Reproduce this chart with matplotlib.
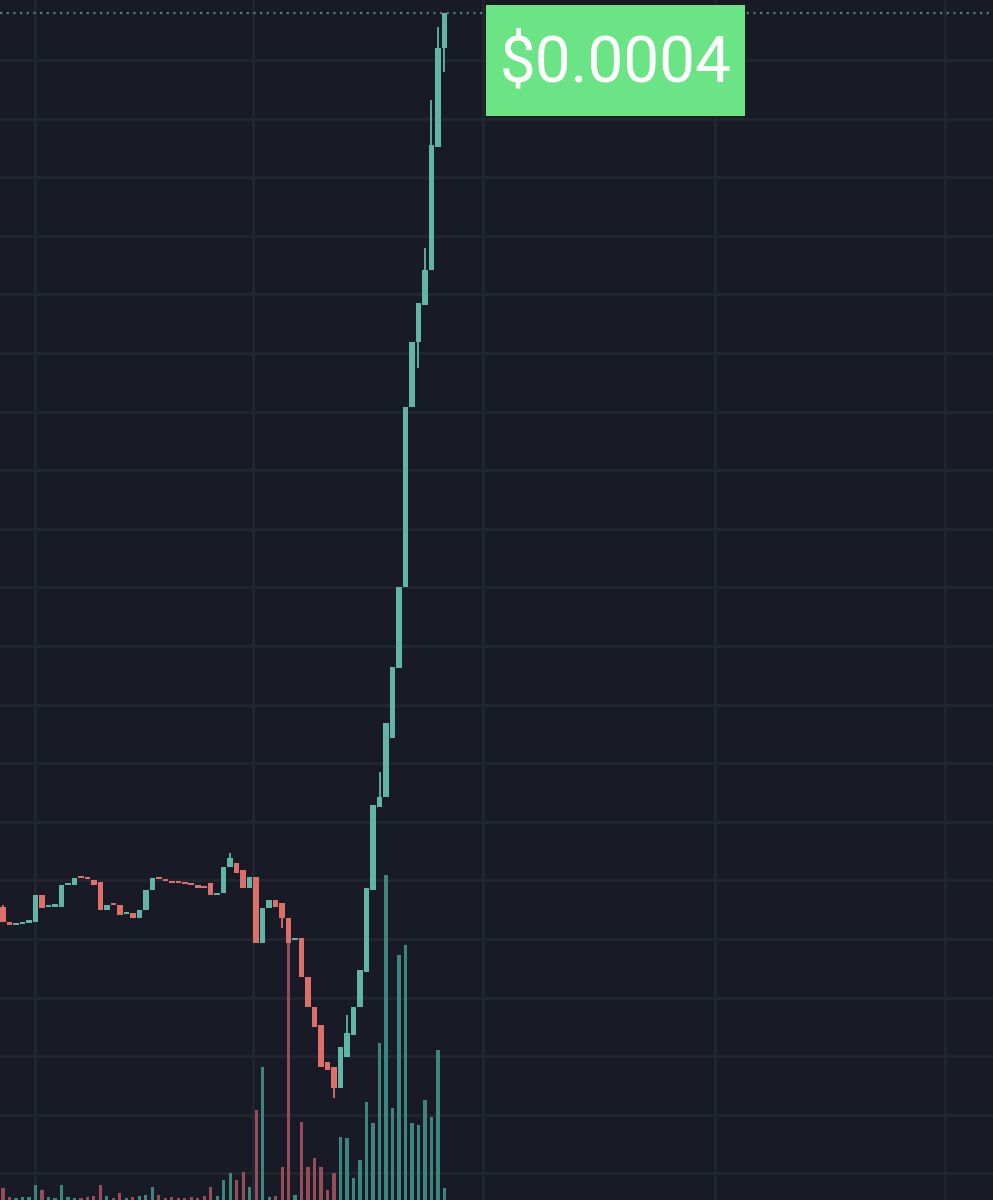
import matplotlib
matplotlib.use("Agg")
import matplotlib.pyplot as plt
from matplotlib.patches import Rectangle
import numpy as np

# candles, price in micro-dollars (1e-6 $), one per period
opens = [98.7, 93.6, 92.6, 92.9, 93.3, 93.6, 102.7, 98.5, 98.7, 98.7,
         106.1, 106.1, 108.4, 108.4, 107.7, 107.1, 97.6, 99.3, 99.3, 96.2,
         96.6, 94.9, 97.6, 104.4, 108.4, 108.1, 107.4, 106.7, 106.7, 106.4,
         106.1, 105.4, 106.7, 102.7, 103.4, 112.1, 113.5, 111.1, 105.1, 108.8,
         86.5, 98.3, 101.0, 100.0, 94.9, 87.5, 88.2, 75.1, 65.0, 58.9,
         46.5, 44.8, 37.7, 48.1, 55.6, 65.0, 76.8, 104.4, 132.3, 135.7,
         155.6, 179.1, 206.4, 267.0, 288.9, 301.3, 313.1, 354.5, 387.9]
closes = [93.6, 92.6, 92.9, 93.1, 94.3, 102.7, 98.3, 98.7, 99.0, 106.1,
          106.2, 108.4, 108.3, 108.1, 106.1, 97.6, 99.3, 99.2, 96.0, 96.6,
          94.9, 97.6, 104.4, 108.4, 108.1, 107.4, 106.7, 106.6, 106.4, 106.1,
          105.1, 105.0, 102.7, 103.4, 112.1, 115.2, 110.1, 105.1, 108.8, 86.5,
          98.3, 101.0, 98.7, 94.9, 86.5, 87.8, 75.1, 65.0, 58.2, 44.8,
          43.8, 37.7, 51.5, 56.2, 65.0, 77.4, 105.1, 133.0, 135.7, 160.6,
          179.5, 206.4, 267.0, 288.9, 302.0, 313.1, 355.2, 387.9, 399.7]
# wicks that stick out of the body
wick_highs = {0: 99.3, 35: 116.8, 53: 62.3, 58: 144.1, 65: 320.5, 66: 370.4, 67: 394.9}
wick_lows = {43: 91.6, 51: 34.3, 64: 280.1, 68: 379.8}

volumes = [12, 3, 2, 3, 3, 15, 10, 3, 2, 15,
           3, 2, 2, 3, 4, 15, 4, 2, 7, 2,
           3, 4, 5, 13, 5, 2, 3, 2, 2, 3,
           2, 4, 13, 4, 20, 27, 20, 28, 13, 90,
           133, 3, 4, 33, 257, 5, 78, 33, 42, 33,
           10, 27, 63, 62, 22, 40, 98, 77, 157, 325,
           92, 245, 255, 77, 75, 100, 83, 150, 12]

last_price_label = "$0.0004"

bg = "#181b25"
grid_c = "#22262f"
up_c = "#60b5a6"
down_c = "#dc6f6a"
up_vol = "#3d857d"
down_vol = "#954e59"

n = len(opens)
idx = np.arange(n)
o = np.array(opens)
c = np.array(closes)
up = c >= o

fig = plt.figure(figsize=(9.93, 12), dpi=100)
fig.patch.set_facecolor(bg)

# background axes: grid + volume
ax_vol = fig.add_axes([0, 0, 1, 1], facecolor=bg)
ax_vol.set_xlim(-0.46, 152.5)
ax_vol.set_ylim(0, 1200)
ax_vol.set_xticks([4.9, 38.5, 74.0, 109.7, 145.1])
ax_vol.set_yticks(np.arange(1140, 0, -58.6))
ax_vol.grid(True, color=grid_c, linewidth=2)
ax_vol.tick_params(length=0, labelbottom=False, labelleft=False)
for s in ax_vol.spines.values():
    s.set_visible(False)
ax_vol.bar(idx, volumes, width=0.5, color=np.where(up, up_vol, down_vol), zorder=2)

# price axes
ax = fig.add_axes([0, 0, 1, 1])
ax.patch.set_visible(False)
ax.set_xlim(-0.46, 152.5)
ax.set_ylim(0, 404.04)
ax.axis("off")

highs = np.maximum(o, c)
lows = np.minimum(o, c)
wh = highs.copy()
wl = lows.copy()
for k, v in wick_highs.items():
    wh[k] = v
for k, v in wick_lows.items():
    wl[k] = v
cols = np.where(up, up_c, down_c)
ax.vlines(idx, wl, wh, colors=cols, linewidth=1.3, zorder=3)
body_h = np.maximum(highs - lows, 0.8)
ax.bar(idx, body_h, bottom=lows, width=0.85, color=cols, zorder=4)

# last price line
ax.axhline(closes[-1], color="#56777d", linewidth=1.6, linestyle=(0, (1, 2)), zorder=2)

# price label
fig.patches.append(Rectangle((486 / 993, 1 - 116 / 1200), 259 / 993, 111 / 1200,
                             transform=fig.transFigure, facecolor="#6be485",
                             edgecolor="none", zorder=5))
fig.text(616 / 993, 1 - 63 / 1200, last_price_label, color="white", fontsize=46,
         family="Roboto", ha="center", va="center", zorder=6)

fig.savefig("out.png", dpi=100, facecolor=bg)
